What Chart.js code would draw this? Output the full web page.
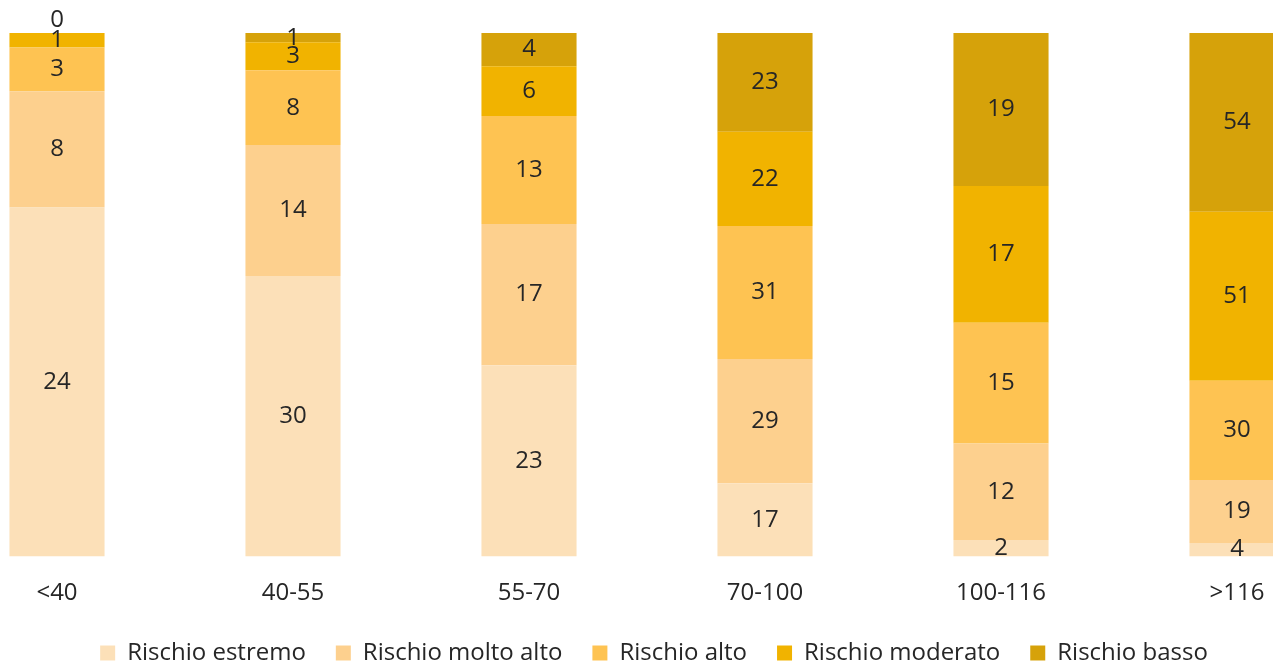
<!DOCTYPE html>
<html>
<head>
<meta charset="utf-8">
<script src="https://cdn.jsdelivr.net/npm/chart.js@4/dist/chart.umd.min.js"></script>
<style>
  html, body { margin: 0; padding: 0; background: #fff; }
  #wrap { width: 1273px; height: 664px; position: relative; }
</style>
</head>
<body>
<div id="wrap"><canvas id="chart"></canvas></div>
<script>
// categories (x axis)
var categories = ['<40', '40-55', '55-70', '70-100', '100-116', '>116'];

// counts per risk class, one value per category
var estremo   = [24, 30, 23, 17,  2,  4];
var moltoAlto = [ 8, 14, 17, 29, 12, 19];
var alto      = [ 3,  8, 13, 31, 15, 30];
var moderato  = [ 1,  3,  6, 22, 17, 51];
var basso     = [ 0,  1,  4, 23, 19, 54];

var seriesNames = ['Rischio estremo', 'Rischio molto alto', 'Rischio alto', 'Rischio moderato', 'Rischio basso'];
var seriesCounts = [estremo, moltoAlto, alto, moderato, basso];
var seriesColors = ['#fce0b8', '#fdd08e', '#fec352', '#f1b300', '#d6a20a'];

var FONT = '"Open Sans", "DejaVu Sans", sans-serif';

// totals, so every bar is drawn as 100%
var totals = categories.map(function(c, i) {
  var s = 0;
  for (var k = 0; k < seriesCounts.length; k++) s += seriesCounts[k][i];
  return s;
});

var datasets = seriesNames.map(function(name, k) {
  return {
    label: name,
    counts: seriesCounts[k],
    data: seriesCounts[k].map(function(v, i) { return v / totals[i] * 100; }),
    backgroundColor: seriesColors[k],
    borderWidth: 0,
    categoryPercentage: 1,
    barPercentage: 0.403,
    clip: false
  };
});

// draws the raw count in the middle of each segment
var segmentLabels = {
  id: 'segmentLabels',
  afterDatasetsDraw: function(chart) {
    var ctx = chart.ctx;
    ctx.save();
    ctx.font = '24px ' + FONT;
    ctx.fillStyle = '#262626';
    ctx.textAlign = 'center';
    ctx.textBaseline = 'middle';
    chart.data.datasets.forEach(function(ds, k) {
      var meta = chart.getDatasetMeta(k);
      meta.data.forEach(function(bar, i) {
        var v = ds.counts[i];
        var y = (bar.y + bar.base) / 2;
        if (v === 0) y -= 13;   // zero sits just above the bar
        ctx.fillText(String(v), bar.x, y);
      });
    });
    ctx.restore();
  }
};

// nudge the legend a little to the right, like the original
var legendShift = {
  id: 'legendShift',
  afterLayout: function(chart) {
    chart.legend.left += 7;
    chart.legend.right += 7;
  }
};

new Chart(document.getElementById('chart'), {
  type: 'bar',
  data: { labels: categories, datasets: datasets },
  plugins: [segmentLabels, legendShift],
  options: {
    responsive: true,
    maintainAspectRatio: false,
    animation: false,
    layout: { padding: { top: 33, left: 57, right: 36, bottom: -11 } },
    scales: {
      x: {
        stacked: true,
        offset: false,
        grid: { display: false, drawTicks: false },
        border: { display: false },
        ticks: { color: '#262626', font: { family: FONT, size: 24 }, padding: 23, maxRotation: 0 },
        afterFit: function(s) { s.paddingLeft = 0; s.paddingRight = 0; s.height -= 20; }
      },
      y: {
        stacked: true,
        min: 0,
        max: 100,
        display: false
      }
    },
    plugins: {
      tooltip: { enabled: false },
      legend: {
        position: 'bottom',
        labels: {
          color: '#262626',
          font: { family: FONT, size: 24 },
          boxWidth: 15,
          boxHeight: 15,
          padding: 30
        }
      }
    }
  }
});
</script>
</body>
</html>
